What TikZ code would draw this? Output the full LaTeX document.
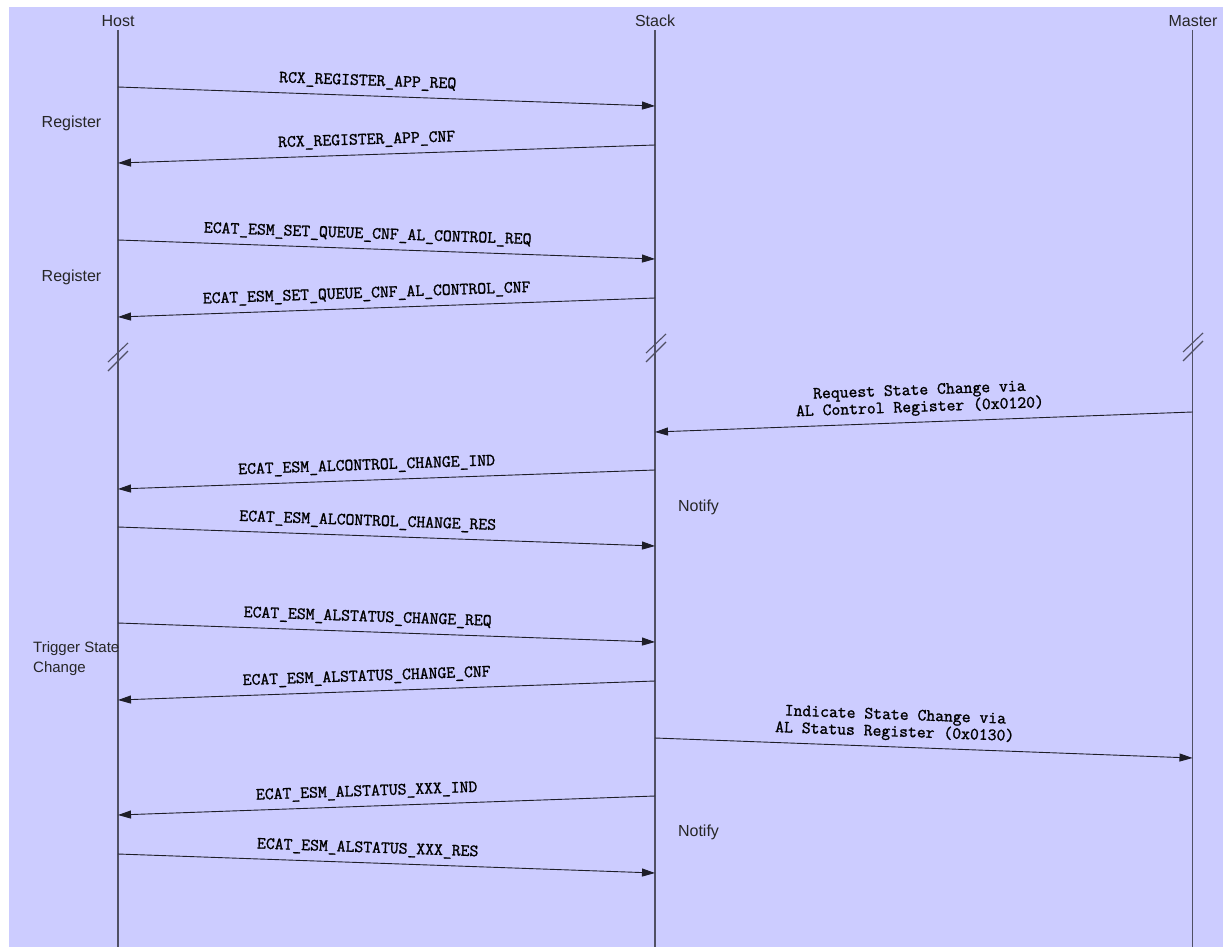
\documentclass[tikz,border=0pt]{standalone}
\usepackage{fontspec}
\setmainfont{Liberation Sans}
\newfontfamily\monof[FakeBold=1.3]{Latin Modern Mono}
\usetikzlibrary{arrows.meta}
\definecolor{bg}{HTML}{CCCCFF}
\definecolor{life}{HTML}{505064}
\definecolor{msgc}{HTML}{1E1E28}
\begin{document}
\begin{tikzpicture}[x=1pt,y=-1pt,
  lifeline/.style={draw=life, line width=1.3pt},
  msg/.style={draw=msgc, line width=0.9pt, -{Triangle[length=13pt,width=8pt]}},
  lbl/.style={font=\monof\fontsize{17.2}{17}\selectfont, text=black, sloped, inner sep=0pt, text depth=0pt, align=center, above=10pt},
  title/.style={font=\fontsize{16}{19}\selectfont, text=black!85},
  note/.style={font=\fontsize{16}{19}\selectfont, text=black!85, inner sep=0pt},
  brk/.style={draw=life, line width=1.1pt}
]
\fill[white] (0,0) rectangle (1223,947);
\useasboundingbox (0,0) rectangle (1223,947);
\fill[bg] (9,7) rectangle (1223,947);

% lifeline heads
\node[title] (host) at (118,21) {Host};
\node[title] (stack) at (655,21) {Stack};
\node[title] (master) at (1193,21) {Master};
\coordinate (hend) at (118,947);
\coordinate (send) at (655,947);
\coordinate (mend) at (1192.5,947);
\coordinate (htop) at (118,30);
\coordinate (stop) at (655,30);
\coordinate (mtop) at (1192.5,30);
\draw[lifeline] (htop) -- (hend);
\draw[lifeline] (stop) -- (send);
\draw[lifeline] (mtop) -- (mend);

% breaks
\draw[brk,shift={(118,357)}] (-10,5) -- (10,-14) (-10,14) -- (10,-6);
\draw[brk,shift={(656,348)}] (-10,5) -- (10,-14) (-10,14) -- (10,-6);
\draw[brk,shift={(1193,347)}] (-10,5) -- (10,-14) (-10,14) -- (10,-6);

% endpoints
\coordinate (h1) at (118,87);   \coordinate (s1) at (655,106);
\coordinate (s2) at (655,145);  \coordinate (h2) at (118,163);
\coordinate (h3) at (118,240);  \coordinate (s3) at (655,259);
\coordinate (s4) at (655,298);  \coordinate (h4) at (118,317);
\coordinate (m5) at (1192.5,412); \coordinate (s5) at (655,432);
\coordinate (s6) at (655,470);  \coordinate (h6) at (118,489);
\coordinate (h7) at (118,527);  \coordinate (s7) at (655,546);
\coordinate (h8) at (118,623);  \coordinate (s8) at (655,642);
\coordinate (s9) at (655,681);  \coordinate (h9) at (118,700);
\coordinate (s10) at (655,738); \coordinate (m10) at (1192.5,758);
\coordinate (s11) at (655,796); \coordinate (h11) at (118,815);
\coordinate (h12) at (118,854); \coordinate (s12) at (655,873);

% messages
\draw[msg] (h1) -- node[lbl,pos=0.464] {RCX\_REGISTER\_APP\_REQ} (s1);
\draw[msg] (s2) -- node[lbl,pos=0.536] {RCX\_REGISTER\_APP\_CNF} (h2);
\draw[msg] (h3) -- node[lbl,pos=0.464] {ECAT\_ESM\_SET\_QUEUE\_CNF\_AL\_CONTROL\_REQ} (s3);
\draw[msg] (s4) -- node[lbl,pos=0.536] {ECAT\_ESM\_SET\_QUEUE\_CNF\_AL\_CONTROL\_CNF} (h4);
\draw[msg] (m5) -- node[lbl,pos=0.506] {Request State Change via\\AL Control Register (0x0120)} (s5);
\draw[msg] (s6) -- node[lbl,pos=0.536] {ECAT\_ESM\_ALCONTROL\_CHANGE\_IND} (h6);
\draw[msg] (h7) -- node[lbl,pos=0.464] {ECAT\_ESM\_ALCONTROL\_CHANGE\_RES} (s7);
\draw[msg] (h8) -- node[lbl,pos=0.464] {ECAT\_ESM\_ALSTATUS\_CHANGE\_REQ} (s8);
\draw[msg] (s9) -- node[lbl,pos=0.536] {ECAT\_ESM\_ALSTATUS\_CHANGE\_CNF} (h9);
\draw[msg] (s10) -- node[lbl,pos=0.445] {Indicate State Change via\\AL Status Register (0x0130)} (m10);
\draw[msg] (s11) -- node[lbl,pos=0.536] {ECAT\_ESM\_ALSTATUS\_XXX\_IND} (h11);
\draw[msg] (h12) -- node[lbl,pos=0.464] {ECAT\_ESM\_ALSTATUS\_XXX\_RES} (s12);

% side notes
\node[note] (reg1) at (71.5,123) {Register};
\node[note] (reg2) at (71.5,277) {Register};
\node[note,font=\fontsize{15}{20}\selectfont,align=left,anchor=west] (trig) at (33,659) {Trigger State\\Change};
\node[note] (not1) at (698.5,507) {Notify};
\node[note] (not2) at (698.5,832) {Notify};
\end{tikzpicture}
\end{document}
